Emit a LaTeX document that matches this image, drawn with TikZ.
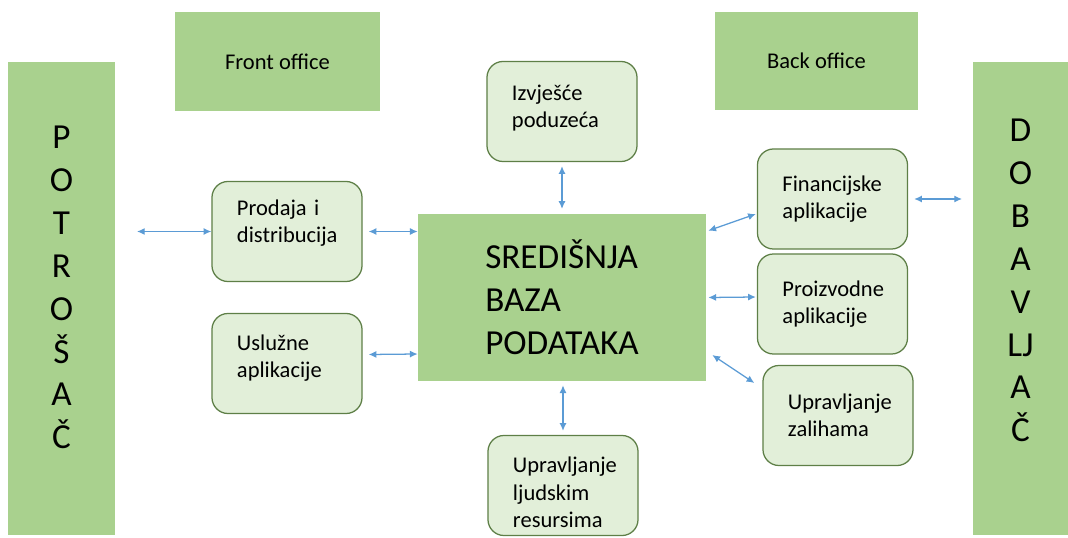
\documentclass[tikz,border=0pt]{standalone}
\usepackage{fontspec}
\setmainfont{Carlito}
\usetikzlibrary{arrows.meta,calc}

\definecolor{blockgreen}{HTML}{A9D18E}
\definecolor{appgreen}{HTML}{E2EFD9}
\definecolor{edgegreen}{HTML}{5E7F47}
\definecolor{linkblue}{HTML}{5B9BD5}

\begin{document}
\begin{tikzpicture}[x=0.025cm,y=-0.025cm,
	block/.style={fill=blockgreen,inner sep=0pt},
	app/.style={draw=edgegreen,fill=appgreen,line width=0.9pt,rounded corners=0.4cm,
		inner xsep=0.625cm,text width=2.5cm,minimum height=2.5cm,align=left,
		font=\fontsize{16}{19.5}\selectfont},
	link/.style={linkblue,line width=0.9pt,{Latex[length=5.5pt,width=5pt]}-{Latex[length=5.5pt,width=5pt]}}]
	\useasboundingbox (0,0) rectangle (1068,538);
	%office labels on top
	\node[block,minimum width=5.125cm,minimum height=2.475cm,font=\fontsize{16}{19.5}\selectfont] (front) at (277.5,61.5){Front office};
	\node[block,minimum width=5.075cm,minimum height=2.45cm,font=\fontsize{16}{19.5}\selectfont] (back) at (816.5,61){Back office};
	%% the two long side columns
	\node[block,minimum width=2.675cm,minimum height=11.825cm,align=center,text depth=0.55cm,
		font=\fontsize{25}{30.5}\selectfont] (kupac) at (61.5,298.5)
		{P\\O\\T\\R\\O\\Š\\A\\Č};
	\node[block,minimum width=2.375cm,minimum height=11.825cm,align=center,text depth=0.9cm,
		font=\fontsize{25}{30.5}\selectfont] (dobav) at (1020.5,298.5)
		{D\\O\\B\\A\\V\\LJ\\A\\Č};
	%% central database
	\node[block,minimum width=7.2cm,minimum height=4.175cm,align=left,
		font=\fontsize{25}{30.5}\selectfont] (baza) at (562,297.5)
		{SREDIŠNJA\\BAZA\\PODATAKA};
	%% application boxes
	\node[app,text depth=0.96cm] (izvj) at (562,111.5){Izvješće\\poduzeća};
	\node[app,text depth=1.21cm] (prod) at (287,231.5){Prodaja i\\distribucija};
	\node[app,text depth=1.06cm] (usl) at (287,363.5){Uslužne\\aplikacije};
	\node[app,text depth=1.02cm] (ljud) at (563,485.5){Upravljanje\\ljudskim\\resursima};
	\node[app] (fin) at (832.5,199){Financijske\\aplikacije};
	\node[app] (proiz) at (832.5,304){Proizvodne\\aplikacije};
	\node[app] (zal) at (838,415.5){Upravljanje\\zalihama};
	%% free ends of the outer arrows
	\coordinate (kup) at (137,231.5);
	\coordinate (dob) at (962,199);
	%% connectors
	\draw[link] (kup) -- (prod.west);
	\draw[link,shorten <=0.15cm] (prod.east) -- (baza.west |- prod.east);
	\draw[link] ($(usl.east)+(6,-9)$) -- ($(baza.west)+(0,56.5)$);
	\draw[link,shorten <=0.1cm,shorten >=0.12cm] (izvj.south) -- (izvj.south |- baza.north);
	\draw[link,shorten <=0.1cm,shorten >=0.1cm] (ljud.north |- baza.south) -- (ljud.north);
	\draw[link] ($(baza.north east)+(2,17)$) -- ($(fin.west)+(-1,15)$);
	\draw[link] ($(baza.east)+(2,0)$) -- ($(proiz.west)+(-1,-7)$);
	\draw[link] ($(baza.east)+(6,57.5)$) -- ($(zal.west)+(-8,-32.5)$);
	\draw[link,shorten <=0.15cm] (fin.east) -- (dob);
\end{tikzpicture}
\end{document}
